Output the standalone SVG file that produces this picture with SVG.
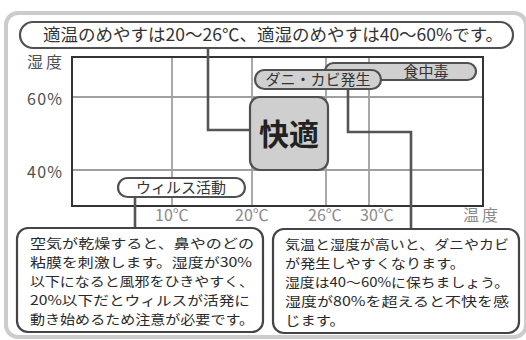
<svg xmlns="http://www.w3.org/2000/svg" width="526" height="340" viewBox="0 0 526 340">
<style>
text{font-family:"Noto Sans CJK JP","Noto Sans",sans-serif;fill:#333}
.pill{stroke:#505050;stroke-width:2.2}
.grid{stroke:#a0a0a0;stroke-width:1.8;fill:none}
.conn{stroke:#555;stroke-width:2.6;fill:none}
.ax{font-size:16px;fill:#505050}
.tmp{font-size:16px;fill:#8a8a8a;text-anchor:middle}
.body{font-size:13px;fill:#2a2a2a}
.lbl{font-size:15px;fill:#333;text-anchor:middle}
</style>
<rect x="0" y="0" width="526" height="340" fill="#fff"/>
<rect x="6" y="13" width="520" height="324" rx="12" fill="none" stroke="#cccccc" stroke-width="4"/>

<g id="title">
<rect class="pill" x="20" y="22" width="493" height="26" rx="13" fill="#fff"/>
<text x="43" y="41" font-size="17" textLength="460" lengthAdjust="spacingAndGlyphs">適温のめやすは20～26℃、適湿のめやすは40～60%です。</text>
</g>

<g id="chart">
<line class="grid" x1="172" y1="57" x2="172" y2="206"/>
<line class="grid" x1="252" y1="57" x2="252" y2="206"/>
<line class="grid" x1="326" y1="57" x2="326" y2="206"/>
<line class="grid" x1="369" y1="57" x2="369" y2="206"/>
<line class="grid" x1="72" y1="97" x2="483" y2="97"/>
<line class="grid" x1="72" y1="170" x2="483" y2="170"/>
<rect x="72" y="57" width="411" height="149" fill="none" stroke="#333" stroke-width="2"/>
<text class="ax" x="27" y="68" letter-spacing="3">湿度</text>
<text class="ax" x="27" y="105" textLength="35">60%</text>
<text class="ax" x="27" y="178" textLength="35">40%</text>
<text class="tmp" x="172" y="221">10℃</text>
<text class="tmp" x="252" y="221">20℃</text>
<text class="tmp" x="325" y="221">26℃</text>
<text class="tmp" x="377" y="221">30℃</text>
<text class="ax" x="463" y="221" style="fill:#8a8a8a" letter-spacing="3">温度</text>
</g>

<g id="connectors">
<path class="conn" d="M208,48 V130 H250"/>
<path class="conn" d="M348,89 V132 H411 V229"/>
<path class="conn" d="M135,197 V228"/>
</g>

<g id="shokuchudoku">
<rect class="pill" x="325" y="63" width="151" height="17" rx="8.5" fill="#d0d0d0"/>
<text class="lbl" x="426" y="77">食中毒</text>
</g>

<g id="dani">
<rect class="pill" x="255" y="70" width="126" height="19" rx="9.5" fill="#d0d0d0"/>
<text class="lbl" x="318" y="85">ダニ・カビ発生</text>
</g>

<g id="kaiteki">
<rect class="pill" x="250" y="97" width="78" height="73" rx="10" fill="#cfcfcf"/>
<text x="289" y="145" font-size="30" font-weight="bold" text-anchor="middle" style="fill:#222">快適</text>
</g>

<g id="virus">
<rect class="pill" x="118" y="178" width="127" height="19" rx="9.5" fill="#fff"/>
<text class="lbl" x="181" y="193">ウィルス活動</text>
</g>

<g id="leftbox">
<rect x="17" y="228" width="246" height="104" rx="11" fill="#fff" stroke="#444" stroke-width="2.2"/>
<text class="body" x="30" y="248" textLength="224" lengthAdjust="spacingAndGlyphs">空気が乾燥すると、鼻やのどの</text>
<text class="body" x="30" y="267" textLength="222" lengthAdjust="spacingAndGlyphs">粘膜を刺激します。湿度が30%</text>
<text class="body" x="30" y="286" textLength="224" lengthAdjust="spacingAndGlyphs">以下になると風邪をひきやすく、</text>
<text class="body" x="30" y="305" textLength="220" lengthAdjust="spacingAndGlyphs">20%以下だとウィルスが活発に</text>
<text class="body" x="30" y="324" textLength="224" lengthAdjust="spacingAndGlyphs">動き始めるため注意が必要です。</text>
</g>

<g id="rightbox">
<rect x="273" y="229" width="246" height="104" rx="11" fill="#fff" stroke="#444" stroke-width="2.2"/>
<text class="body" x="285" y="249" textLength="224" lengthAdjust="spacingAndGlyphs">気温と湿度が高いと、ダニやカビ</text>
<text class="body" x="285" y="268" textLength="180" lengthAdjust="spacingAndGlyphs">が発生しやすくなります。</text>
<text class="body" x="285" y="287" textLength="224" lengthAdjust="spacingAndGlyphs">湿度は40～60%に保ちましょう。</text>
<text class="body" x="285" y="306" textLength="224" lengthAdjust="spacingAndGlyphs">湿度が80%を超えると不快を感</text>
<text class="body" x="285" y="325" textLength="60" lengthAdjust="spacingAndGlyphs">じます。</text>
</g>
</svg>
